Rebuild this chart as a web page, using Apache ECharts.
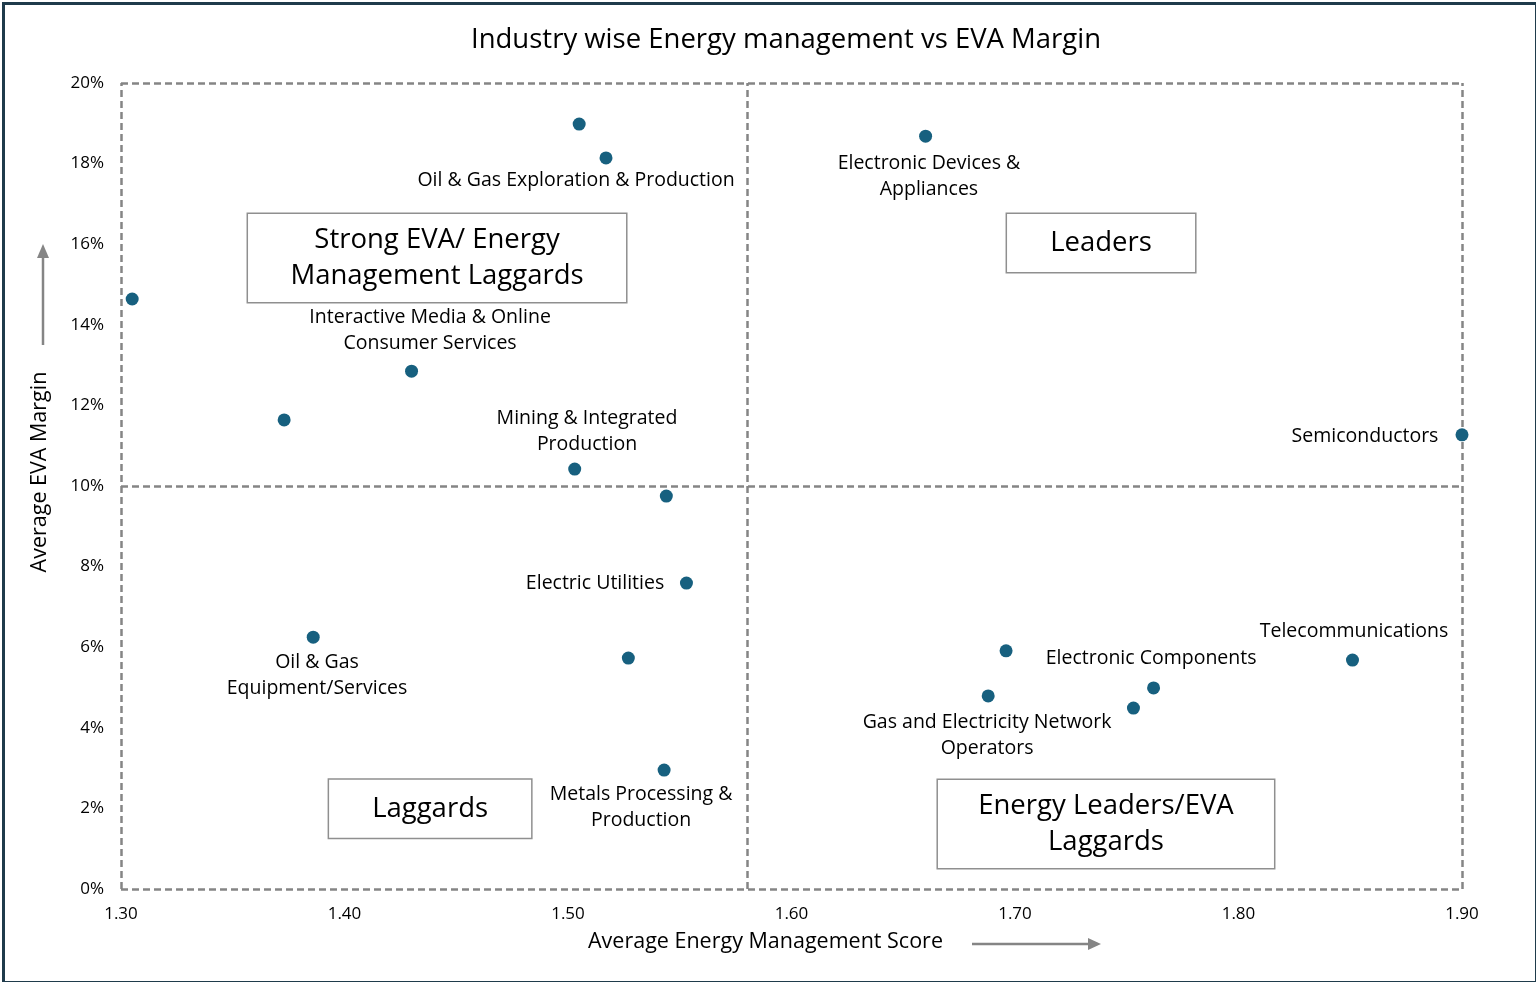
<!DOCTYPE html>
<html>
<head>
<meta charset="utf-8">
<title>Industry wise Energy management vs EVA Margin</title>
<script src="https://cdn.jsdelivr.net/npm/echarts@6/dist/echarts.min.js"></script>
<style>
  html, body { margin: 0; padding: 0; background: #fff; }
  #main { width: 1536px; height: 982px; }
</style>
</head>
<body>
<div id="main"></div>
<script>
// energy management score vs average EVA margin (%), one point per industry
var scores  = [1.305, 1.505, 1.517, 1.660, 1.430, 1.373, 1.503, 1.544, 1.553, 1.386, 1.527, 1.543, 1.900, 1.696, 1.688, 1.762, 1.753, 1.851];
var margins = [14.64, 18.98, 18.14, 18.68, 12.85, 11.64, 10.42, 9.75, 7.59, 6.25, 5.73, 2.95, 11.27, 5.91, 4.79, 4.99, 4.49, 5.68];

// industry labels and where their text sits (data coords)
var labelText = [
  'Oil & Gas Exploration & Production',
  'Electronic Devices &\nAppliances',
  'Interactive Media & Online\nConsumer Services',
  'Mining & Integrated\nProduction',
  'Semiconductors',
  'Electric Utilities',
  'Oil & Gas\nEquipment/Services',
  'Telecommunications',
  'Electronic Components',
  'Gas and Electricity Network\nOperators',
  'Metals Processing &\nProduction'
];
var labelX = [1.5036, 1.6615, 1.4383, 1.5085, 1.8566, 1.5121, 1.3877, 1.8517, 1.7609, 1.6875, 1.5327];
var labelY = [17.59, 17.67, 13.87, 11.36, 11.22, 7.59, 5.29, 6.38, 5.73, 3.80, 2.03];

// quadrant captions
var quadText  = ['Strong EVA/ Energy\nManagement Laggards', 'Leaders', 'Laggards', 'Energy Leaders/EVA\nLaggards'];
var quadX     = [1.4414, 1.7385, 1.4383, 1.7407];
var quadY     = [15.66, 16.03, 1.99, 1.61];
var quadWidth = [378, 188, 202, 336];

var xTicks = { min: 1.3, max: 1.9, step: 0.1 };
var yTicks = { min: 0, max: 20, step: 2 };
var splitX = 1.582;
var splitY = 10;

var FONT = '"Open Sans", Roboto, sans-serif';
var dashColor = '#858585';

var chart = echarts.init(document.getElementById('main'));

var pointData = scores.map(function (s, i) { return [s, margins[i]]; });
var labelData = labelText.map(function (t, i) { return { value: [labelX[i], labelY[i]], name: t }; });
var quadData = quadText.map(function (t, i) {
  var two = t.indexOf('\n') >= 0;
  return {
    value: [quadX[i], quadY[i]],
    name: t,
    label: { width: quadWidth[i], padding: two ? [8, 0, 8, 0] : [11, 0, 11, 0] }
  };
});

chart.setOption({
  animation: false,
  textStyle: { fontFamily: FONT },
  title: {
    text: 'Industry wise Energy management vs EVA Margin',
    left: 466,
    top: 21,
    textStyle: { fontSize: 27.5, fontWeight: 'normal', color: '#000', fontFamily: FONT }
  },
  grid: { left: 121, right: 74, top: 83, bottom: 93 },
  xAxis: {
    type: 'value',
    min: xTicks.min, max: xTicks.max, interval: xTicks.step,
    axisLine: { show: false },
    axisTick: { show: false },
    splitLine: { show: false },
    axisLabel: {
      margin: 17, fontSize: 17, color: '#000',
      formatter: function (v) { return v.toFixed(2); }
    }
  },
  yAxis: {
    type: 'value',
    min: yTicks.min, max: yTicks.max, interval: yTicks.step,
    axisLine: { show: false },
    axisTick: { show: false },
    splitLine: { show: false },
    axisLabel: {
      margin: 17, fontSize: 17, color: '#000',
      formatter: function (v) { return v + '%'; }
    }
  },
  graphic: [
    { type: 'rect', left: 1, top: 1, z: -1, silent: true,
      shape: { width: 1533, height: 979 },
      style: { fill: 'none', stroke: '#1f3b4b', lineWidth: 3 } },
    { type: 'text', left: 588, top: 931,
      style: { text: 'Average Energy Management Score', font: '21.5px ' + FONT, fill: '#000' } },
    { type: 'line', shape: { x1: 972, y1: 944, x2: 1090, y2: 944 },
      style: { stroke: '#858585', lineWidth: 2.5 } },
    { type: 'polygon', shape: { points: [[1088, 938], [1101, 944], [1088, 950]] },
      style: { fill: '#858585' } },
    { type: 'text', x: 40, y: 472, rotation: Math.PI / 2,
      style: { text: 'Average EVA Margin', font: '21.5px ' + FONT, fill: '#000',
               textAlign: 'center', textVerticalAlign: 'middle' } },
    { type: 'line', shape: { x1: 43, y1: 345, x2: 43, y2: 256 },
      style: { stroke: '#858585', lineWidth: 2.5 } },
    { type: 'polygon', shape: { points: [[37, 258], [43, 244], [49, 258]] },
      style: { fill: '#858585' } }
  ],
  series: [
    {
      type: 'scatter',
      data: pointData,
      symbolSize: 13,
      itemStyle: { color: '#17607f', opacity: 1 },
      z: 5,
      markLine: {
        silent: true,
        symbol: 'none',
        label: { show: false },
        lineStyle: { color: dashColor, type: [7, 4], width: 2.5, opacity: 1 },
        data: [
          { xAxis: xTicks.min }, { xAxis: xTicks.max }, { xAxis: splitX },
          { yAxis: yTicks.min }, { yAxis: yTicks.max }, { yAxis: splitY }
        ]
      }
    },
    {
      type: 'scatter',
      data: labelData,
      symbolSize: 0,
      silent: true,
      itemStyle: { opacity: 1 },
      label: {
        show: true,
        position: 'inside',
        formatter: '{b}',
        fontSize: 19.5,
        lineHeight: 26,
        color: '#000',
        align: 'center',
        fontFamily: FONT
      }
    },
    {
      type: 'scatter',
      data: quadData,
      symbolSize: 0,
      silent: true,
      itemStyle: { opacity: 1 },
      label: {
        show: true,
        position: 'inside',
        formatter: '{b}',
        fontSize: 27.5,
        lineHeight: 36,
        color: '#000',
        align: 'center',
        backgroundColor: '#fff',
        borderColor: '#8f8f8f',
        borderWidth: 1.5,
        fontFamily: FONT
      }
    }
  ]
});
</script>
</body>
</html>
